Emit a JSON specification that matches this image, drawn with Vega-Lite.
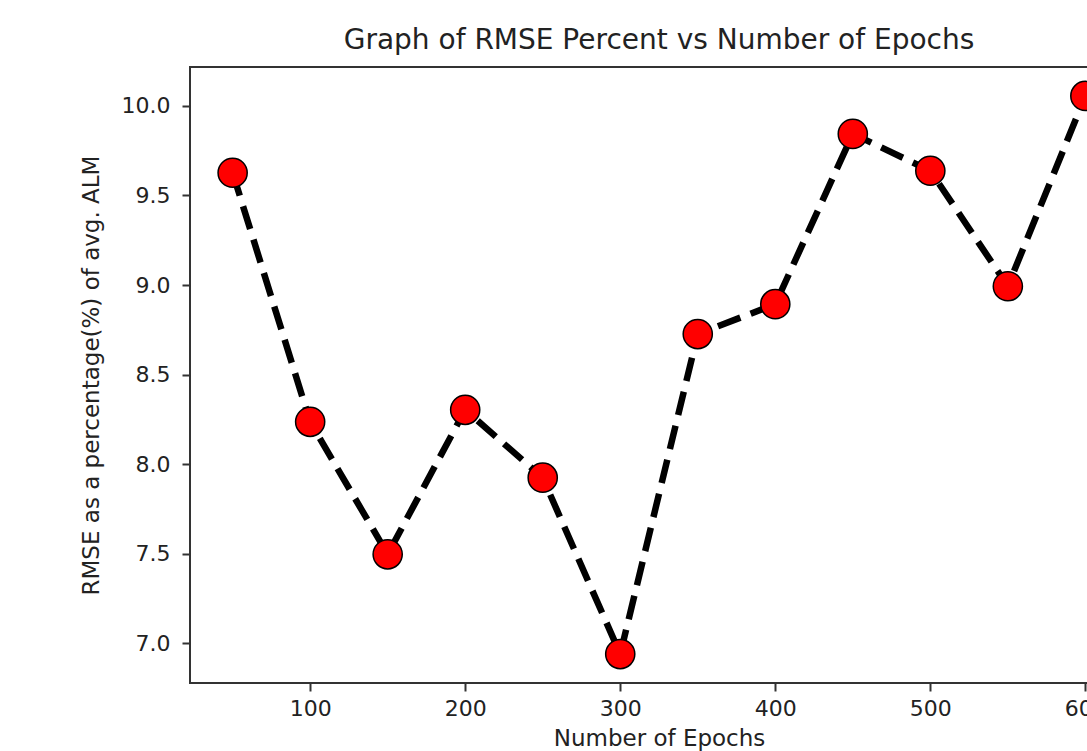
{
  "$schema": "https://vega.github.io/schema/vega-lite/v6.json",
  "autosize": {"type": "none"},
  "width": 938,
  "height": 616,
  "padding": {"left": 190, "top": 67, "right": 0, "bottom": 68},
  "background": "white",
  "title": {"text": "Graph of RMSE Percent vs Number of Epochs", "font": "DejaVu Sans", "fontSize": 28, "fontWeight": "normal", "color": "#222", "offset": 12},
  "config": {
    "view": {"stroke": "#333", "strokeWidth": 2},
    "axis": {"domain": false, "grid": false, "tickColor": "#333", "tickWidth": 2, "tickSize": 8, "labelFont": "DejaVu Sans", "labelFontSize": 22, "labelColor": "#222", "titleFont": "DejaVu Sans", "titleFontSize": 23, "titleFontWeight": "normal", "titleColor": "#222"}
  },
  "data": {"values": [
    {"epochs": 50, "rmse": 9.627},
    {"epochs": 100, "rmse": 8.236},
    {"epochs": 150, "rmse": 7.496},
    {"epochs": 200, "rmse": 8.303},
    {"epochs": 250, "rmse": 7.924},
    {"epochs": 300, "rmse": 6.939},
    {"epochs": 350, "rmse": 8.726},
    {"epochs": 400, "rmse": 8.893},
    {"epochs": 450, "rmse": 9.844},
    {"epochs": 500, "rmse": 9.638},
    {"epochs": 550, "rmse": 8.993},
    {"epochs": 600, "rmse": 10.056}
  ]},
  "encoding": {
    "x": {"field": "epochs", "type": "quantitative", "scale": {"domain": [22.5, 627.5], "nice": false, "zero": false}, "axis": {"values": [100, 200, 300, 400, 500, 600], "title": "Number of Epochs", "labelPadding": 7, "titlePadding": 8}},
    "y": {"field": "rmse", "type": "quantitative", "scale": {"domain": [6.7775, 10.2175], "nice": false, "zero": false}, "axis": {"values": [7.0, 7.5, 8.0, 8.5, 9.0, 9.5, 10.0], "format": ".1f", "title": "RMSE as a percentage(%) of avg. ALM", "labelPadding": 12, "titlePadding": 18}}
  },
  "layer": [
    {"mark": {"type": "line", "color": "black", "strokeWidth": 6.5, "strokeDash": [24, 11]}},
    {"mark": {"type": "point", "shape": "circle", "filled": true, "fill": "#ff0000", "stroke": "black", "strokeWidth": 1.5, "size": 850, "opacity": 1}}
  ]
}
